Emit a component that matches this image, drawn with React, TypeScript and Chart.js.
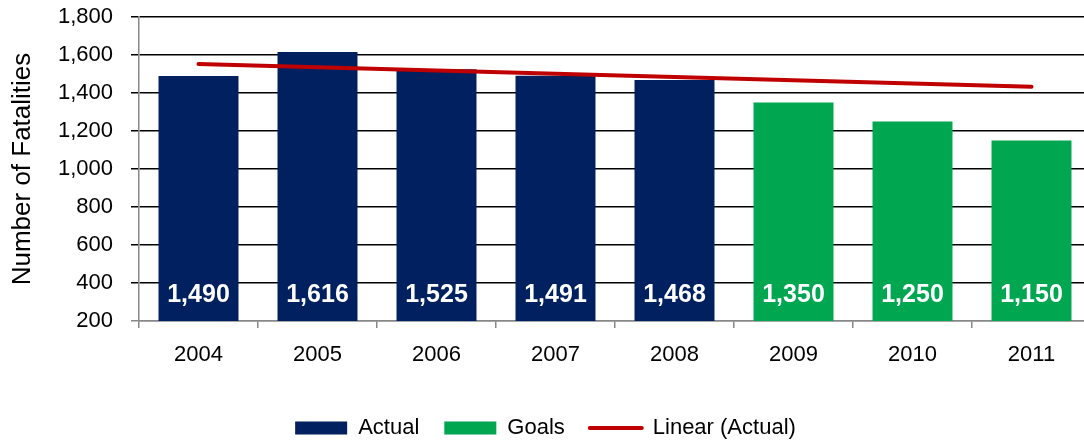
import React, { useEffect, useRef } from 'react';
import { Chart, registerables } from 'chart.js';

Chart.register(...registerables);

const years = ['2004', '2005', '2006', '2007', '2008', '2009', '2010', '2011'];
const actualValues = [1490, 1616, 1525, 1491, 1468, null, null, null];
const goalValues = [null, null, null, null, null, 1350, 1250, 1150];
const trendValues = [1552, 1535, 1518, 1501, 1484, 1467, 1450, 1433];
const yMin = 200;
const yMax = 1800;
const yStep = 200;

const FONT = "'Liberation Sans', Arial, sans-serif";
const fmt = (v: number) => v.toLocaleString('en-US');

const barLabels = {
  id: 'barLabels',
  afterDatasetsDraw(chart: any) {
    const ctx = chart.ctx;
    const bottom = chart.chartArea.bottom;
    ctx.save();
    ctx.font = `bold 25px ${FONT}`;
    ctx.fillStyle = '#ffffff';
    ctx.textAlign = 'center';
    ctx.textBaseline = 'alphabetic';
    [0, 1].forEach((di) => {
      const meta = chart.getDatasetMeta(di);
      meta.data.forEach((el: any, i: number) => {
        const v = chart.data.datasets[di].data[i];
        if (v == null) return;
        ctx.fillText(fmt(v as number), el.x, bottom - 19);
      });
    });
    ctx.restore();
  },
};

export default function App() {
  const ref = useRef<HTMLCanvasElement>(null);
  useEffect(() => {
    if (!ref.current) return;
    const styles = ['rect', 'rect', 'line'];
    const chart = new Chart(ref.current, {
      type: 'bar',
      data: {
        labels: years,
        datasets: [
          {
            label: 'Actual',
            data: actualValues,
            backgroundColor: '#00205F',
            borderWidth: 0,
            grouped: false,
            barPercentage: 0.672,
            categoryPercentage: 1,
            order: 2,
          } as any,
          {
            label: 'Goals',
            data: goalValues,
            backgroundColor: '#00A650',
            borderWidth: 0,
            grouped: false,
            barPercentage: 0.672,
            categoryPercentage: 1,
            order: 2,
          } as any,
          {
            type: 'line',
            label: 'Linear (Actual)',
            data: trendValues,
            borderColor: '#C00000',
            backgroundColor: '#C00000',
            borderWidth: 4,
            borderCapStyle: 'round',
            pointRadius: 0,
            pointHoverRadius: 0,
            pointStyle: 'line',
            tension: 0,
            fill: false,
            order: 1,
          } as any,
        ],
      },
      options: {
        responsive: false,
        maintainAspectRatio: false,
        animation: false,
        events: [],
        layout: { padding: { top: 17, right: 0, bottom: -2, left: 0 } },
        plugins: {
          tooltip: { enabled: false },
          legend: {
            position: 'bottom',
            labels: {
              usePointStyle: true,
              pointStyleWidth: 52,
              boxHeight: 13,
              padding: 25,
              color: '#000',
              font: { family: FONT, size: 22 },
              sort: (a: any, b: any) => a.datasetIndex - b.datasetIndex,
              generateLabels(chart: any) {
                const items = Chart.defaults.plugins.legend.labels.generateLabels(chart);
                items.forEach((it: any, i: number) => {
                  it.pointStyle = styles[it.datasetIndex ?? i];
                  if (it.pointStyle === 'rect') it.lineWidth = 0;
                  else {
                    it.lineWidth = 4;
                    it.strokeStyle = '#C00000';
                    it.lineCap = 'round';
                  }
                });
                return items;
              },
            },
          },
        },
        scales: {
          x: {
            grid: {
              display: true,
              drawOnChartArea: false,
              drawTicks: true,
              tickLength: 7,
              color: '#888888',
              lineWidth: 1.5,
              offset: true,
            },
            border: { color: '#888888', width: 1.5 },
            ticks: { color: '#000', padding: 14, font: { family: FONT, size: 22 } },
            afterFit(scale: any) {
              scale.height = 71;
              scale.paddingLeft = 0;
              scale.paddingRight = 0;
            },
          },
          y: {
            min: yMin,
            max: yMax,
            border: { color: '#888888', width: 1.5 },
            grid: {
              color: (c: any) => (c.tick && c.tick.value === yMin ? '#888888' : '#000000'),
              lineWidth: 1.5,
              tickLength: 8,
            },
            ticks: {
              stepSize: yStep,
              color: '#000',
              padding: 18,
              font: { family: FONT, size: 22 },
              callback: (v: any) => fmt(Number(v)),
            },
            title: {
              display: true,
              text: 'Number of Fatalities',
              color: '#000',
              font: { family: FONT, size: 26 },
              padding: { top: 7, bottom: 0 },
            },
            afterFit(scale: any) {
              scale.width = 139;
              scale.paddingTop = 0;
              scale.paddingBottom = 0;
            },
          },
        },
      },
      plugins: [barLabels],
    } as any);
    return () => chart.destroy();
  }, []);
  return (
    <div
      style={{
        position: 'absolute',
        left: 0,
        top: 0,
        width: 1084,
        height: 447,
        overflow: 'hidden',
        background: '#fff',
      }}
    >
      <canvas ref={ref} width={1091} height={447} style={{ display: 'block' }} />
    </div>
  );
}
